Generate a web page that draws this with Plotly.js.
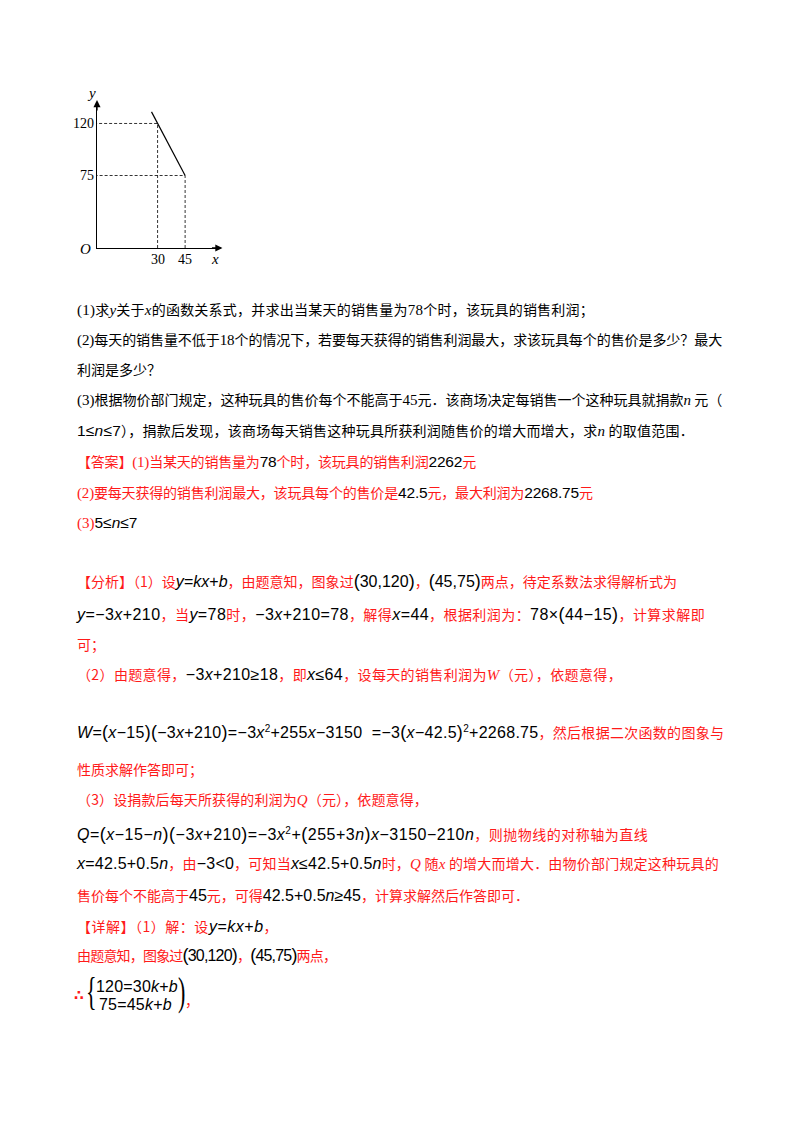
<!DOCTYPE html>
<html><head><meta charset="utf-8">
<script src="https://cdn.plot.ly/plotly-3.0.1.min.js"></script>
<style>
html,body{margin:0;padding:0;background:#fff;}
#page{position:relative;width:800px;height:1132px;overflow:hidden;background:#fff;}
.ln{position:absolute;left:77px;height:22px;line-height:22px;white-space:nowrap;font-family:"Noto Sans CJK SC",sans-serif;font-size:14px;color:#000;}
.r{color:#ff1a1a;}
.k{color:#000;}
.m{font-family:"Liberation Sans",Arial,sans-serif;font-size:16px;}
.mn{font-family:"Liberation Sans",Arial,sans-serif;font-size:15.5px;}
.s{font-family:"Liberation Serif","Times New Roman",serif;font-size:15px;}
.vs{font-family:"Liberation Serif","Times New Roman",serif;font-style:italic;font-size:15px;}
.p{font-size:18px;}
sup{font-size:10px;}
#chart{position:absolute;left:40px;top:70px;width:220px;height:220px;}
</style></head>
<body><div id="page">
<div id="chart"></div>

<div class="ln" data-t="594" style="top:298px"><span class="s">(1)</span>求<span class="vs">y</span>关于<span class="vs">x</span>的函数关系式，并求出当某天的销售量为<span class="s">78</span>个时，该玩具的销售利润；</div>
<div class="ln" data-t="722" style="top:328px"><span class="s">(2)</span>每天的销售量不低于<span class="s">18</span>个的情况下，若要每天获得的销售利润最大，求该玩具每个的售价是多少？最大</div>
<div class="ln" style="top:358px">利润是多少？</div>
<div class="ln" data-t="722" style="top:388px"><span class="s">(3)</span>根据物价部门规定，这种玩具的售价每个不能高于<span class="s">45</span>元．该商场决定每销售一个这种玩具就捐款<span class="vs">n</span> 元（</div>
<div class="ln" data-t="694" style="top:419px"><span class="mn">1≤<i>n</i>≤7</span>），捐款后发现，该商场每天销售这种玩具所获利润随售价的增大而增大，求<span class="vs">n</span> 的取值范围．</div>

<div class="ln r" data-t="476" style="top:450px">【答案】<span class="s">(1)</span>当某天的销售量为<span class="mn k">78</span>个时，该玩具的销售利润<span class="mn k">2262</span>元</div>
<div class="ln r" data-t="593" style="top:481px"><span class="s">(2)</span>要每天获得的销售利润最大，该玩具每个的售价是<span class="mn k">42.5</span>元，最大利润为<span class="mn k">2268.75</span>元</div>
<div class="ln r" style="top:511px"><span class="s">(3)</span><span class="mn k">5≤<i>n</i>≤7</span></div>

<div class="ln r" data-t="677" style="top:570px">【分析】（1）设<span class="m k"><i>y</i>=<i>kx</i>+<i>b</i></span>，由题意知，图象过<span class="m k"><span class="p">(</span>30,120<span class="p">)</span></span>，<span class="m k"><span class="p">(</span>45,75<span class="p">)</span></span>两点，待定系数法求得解析式为</div>
<div class="ln r" data-t="705" style="top:603px"><span class="m k"><i>y</i>=−3<i>x</i>+210</span>，当<span class="m k"><i>y</i>=78</span>时，<span class="m k">−3<i>x</i>+210=78</span>，解得<span class="m k"><i>x</i>=44</span>，根据利润为：<span class="m k">78×<span class="p">(</span>44−15<span class="p">)</span></span>，计算求解即</div>
<div class="ln r" style="top:633px">可；</div>
<div class="ln r" data-t="622" style="top:663px">（2）由题意得，<span class="m k">−3<i>x</i>+210≥18</span>，即<span class="m k"><i>x</i>≤64</span>，设每天的销售利润为<span class="vs">W</span>（元），依题意得，</div>
<div class="ln r" data-t="724" style="top:718px"><span class="m k"><i>W</i>=<span class="p">(</span><i>x</i>−15<span class="p">)(</span>−3<i>x</i>+210<span class="p">)</span>=−3<i>x</i><sup>2</sup>+255<i>x</i>−3150&nbsp; =−3<span class="p">(</span><i>x</i>−42.5<span class="p">)</span><sup>2</sup>+2268.75</span>，然后根据二次函数的图象与</div>
<div class="ln r" style="top:758px">性质求解作答即可；</div>
<div class="ln r" data-t="428" style="top:788px">（3）设捐款后每天所获得的利润为<span class="vs">Q</span>（元），依题意得，</div>
<div class="ln r" data-t="648" style="top:820px"><span class="m k"><i>Q</i>=<span class="p">(</span><i>x</i>−15−<i>n</i><span class="p">)(</span>−3<i>x</i>+210<span class="p">)</span>=−3<i>x</i><sup>2</sup>+<span class="p">(</span>255+3<i>n</i><span class="p">)</span><i>x</i>−3150−210<i>n</i></span>，则抛物线的对称轴为直线</div>
<div class="ln r" data-t="719" style="top:852px"><span class="m k"><i>x</i>=42.5+0.5<i>n</i></span>，由<span class="m k">−3&lt;0</span>，可知当<span class="m k"><i>x</i>≤42.5+0.5<i>n</i></span>时，<span class="vs">Q</span> 随<span class="vs">x</span> 的增大而增大．由物价部门规定这种玩具的</div>
<div class="ln r" data-t="529" style="top:884px">售价每个不能高于<span class="m k">45</span>元，可得<span class="m k">42.5+0.5<i>n</i>≥45</span>，计算求解然后作答即可．</div>
<div class="ln r" data-t="278" style="top:915px">【详解】（1）解：设<span class="m k"><i>y</i>=<i>kx</i>+<i>b</i></span>，</div>
<div class="ln r" data-t="336" style="top:944px">由题意知，图象过<span class="m k"><span class="p">(</span>30,120<span class="p">)</span></span>，<span class="m k"><span class="p">(</span>45,75<span class="p">)</span></span>两点，</div>

<div style="position:absolute;left:74px;top:985px;height:20px;line-height:20px;font-family:'DejaVu Sans',sans-serif;font-size:14px;font-weight:bold;color:#ff1a1a;">∴</div>
<div style="position:absolute;left:86px;top:969px;height:46px;line-height:46px;font-family:'Liberation Serif',serif;font-size:40px;color:#000;transform:scaleX(0.55);transform-origin:left center;">{</div>
<div style="position:absolute;left:96px;top:978px;font-family:'Liberation Sans',sans-serif;font-size:16px;letter-spacing:0.2px;line-height:18px;color:#000;white-space:nowrap;">120=30<i>k</i>+<i>b</i></div>
<div style="position:absolute;left:99px;top:996px;font-family:'Liberation Sans',sans-serif;font-size:16px;letter-spacing:0.2px;line-height:18px;color:#000;white-space:nowrap;">75=45<i>k</i>+<i>b</i></div>
<div style="position:absolute;left:178px;top:969px;height:46px;line-height:46px;font-family:'Liberation Serif',serif;font-size:40px;color:#000;transform:scaleX(0.55);transform-origin:left center;">)</div>
<div style="position:absolute;left:185px;top:990px;height:20px;line-height:20px;font-family:'Noto Sans CJK SC',sans-serif;font-size:14px;color:#ff1a1a;">，</div>
</div>

<script>
// fit each text line to the width measured on the reference
function fitLines(){
  document.querySelectorAll('.ln[data-t]').forEach(function(el){
    el.style.letterSpacing = '0px';
    const target = parseFloat(el.getAttribute('data-t'));
    const rect = el.getBoundingClientRect();
    const n = el.textContent.length;
    const delta = target - rect.right;
    let ls = delta / n;
    ls = Math.max(-1.5, Math.min(2.5, ls));
    el.style.letterSpacing = ls.toFixed(2) + 'px';
  });
}
fitLines();
if (document.fonts && document.fonts.ready) { document.fonts.ready.then(fitLines); }

// chart data
const lineX = [26.7, 30, 45];
const lineY = [130, 120, 75];
const guideX = [30, 45];
const guideY = [120, 75];
const xTickLabels = ['30', '45'];
const yTickLabels = ['120', '75'];
const xRange = [-3.0, 64.0];
const yRange = [12.3, 137.7];

const serif = '"Liberation Serif","Times New Roman",serif';
const guideTraces = guideX.map(function(xv, i){
  const yv = guideY[i];
  return {x:[xv, xv, xRange[0]], y:[yRange[0], yv, yv], mode:'lines', type:'scatter',
    line:{color:'#000', width:0.8, dash:'3px,2px'}, hoverinfo:'skip', showlegend:false};
});
const data = guideTraces.concat([{x:lineX, y:lineY, mode:'lines', type:'scatter',
  line:{color:'#000', width:1.2}, hoverinfo:'skip', showlegend:false}]);

const tickAnns = guideX.map(function(xv, i){
  return {xref:'x', yref:'paper', x:xv, y:0, yanchor:'top', xanchor:'center', yshift:-2, showarrow:false,
    text:xTickLabels[i], font:{family:serif, size:14, color:'#000'}};
}).concat(guideY.map(function(yv, i){
  return {xref:'paper', yref:'y', x:0, y:yv, xanchor:'right', yanchor:'middle', xshift:-1, showarrow:false,
    text:yTickLabels[i], font:{family:serif, size:14, color:'#000'}};
}));

const layout = {
  width:220, height:220,
  margin:{l:57, r:40, t:33, b:42},
  paper_bgcolor:'rgba(0,0,0,0)', plot_bgcolor:'rgba(0,0,0,0)',
  showlegend:false,
  xaxis:{range:xRange, showgrid:false, zeroline:false, showline:true, linecolor:'#000', linewidth:1.4,
    showticklabels:false, ticks:'', fixedrange:true},
  yaxis:{range:yRange, showgrid:false, zeroline:false, showline:true, linecolor:'#000', linewidth:1.4,
    showticklabels:false, ticks:'', fixedrange:true},
  annotations:tickAnns.concat([
    {xref:'paper', yref:'paper', x:1.02, y:0, ax:-12, ay:0, showarrow:true, arrowhead:2, arrowsize:1.1, arrowwidth:1.3, arrowcolor:'#000', text:''},
    {xref:'paper', yref:'paper', x:0, y:1.02, ax:0, ay:12, showarrow:true, arrowhead:2, arrowsize:1.1, arrowwidth:1.3, arrowcolor:'#000', text:''},
    {xref:'paper', yref:'paper', x:0, y:0, xanchor:'right', yanchor:'middle', xshift:-4, yshift:-1, showarrow:false, text:'<i>O</i>', font:{family:serif, size:15, color:'#000'}},
    {xref:'paper', yref:'paper', x:0.96, y:0, xanchor:'center', yanchor:'top', yshift:-1, showarrow:false, text:'<i>x</i>', font:{family:serif, size:15, color:'#000'}},
    {xref:'paper', yref:'paper', x:0, y:1.0, xanchor:'right', yanchor:'bottom', xshift:1, showarrow:false, text:'<i>y</i>', font:{family:serif, size:15, color:'#000'}}
  ])
};
Plotly.newPlot('chart', data, layout, {staticPlot:true, displayModeBar:false});
</script>
</body></html>
